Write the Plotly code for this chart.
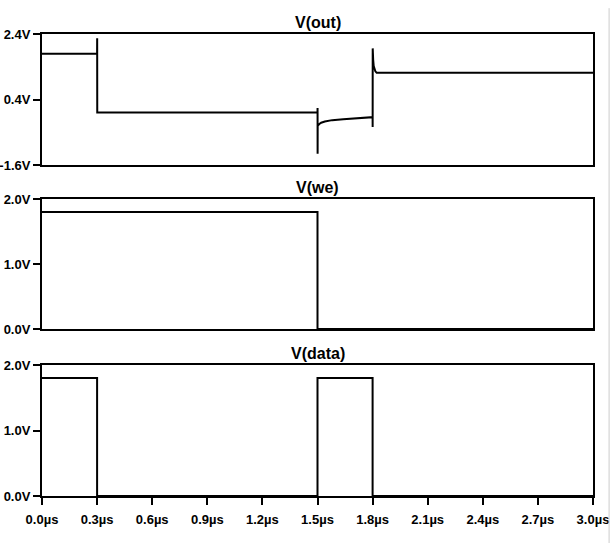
import plotly.graph_objects as go

# Transient simulation results (time in µs, voltages in V)
t_out = [0.0, 0.3, 0.3004, 0.3008, 1.5, 1.5003, 1.5006, 1.5009, 1.51, 1.52, 1.54,
         1.58, 1.64, 1.72, 1.7995, 1.8, 1.8003, 1.8006, 1.803, 1.806, 1.81, 1.815,
         1.822, 3.0]
v_out = [1.8, 1.8, 2.27, 0.0, 0.0, 0.14, -1.26, -0.40, -0.35, -0.31, -0.27,
         -0.23, -0.20, -0.17, -0.14, -0.14, -0.44, 1.96, 1.62, 1.42, 1.32, 1.26,
         1.22, 1.22]

t_we = [0.0, 1.5, 1.5, 3.0]
v_we = [1.8, 1.8, 0.0, 0.0]

t_data = [0.0, 0.3, 0.3, 1.5, 1.5, 1.8, 1.8, 3.0]
v_data = [1.8, 1.8, 0.0, 0.0, 1.8, 1.8, 0.0, 0.0]

titles = ["V(out)", "V(we)", "V(data)"]
x_ticks = [0.0, 0.3, 0.6, 0.9, 1.2, 1.5, 1.8, 2.1, 2.4, 2.7, 3.0]
x_labels = [f"{v:.1f}µs" for v in x_ticks]
y_ticks_out = [-1.6, 0.4, 2.4]
y_labels_out = ["-1.6V", "0.4V", "2.4V"]
y_ticks_lvl = [0.0, 1.0, 2.0]
y_labels_lvl = ["0.0V", "1.0V", "2.0V"]

W, H = 610, 543
FONT = "Liberation Sans, Arial, sans-serif"

x_dom = [42 / W, 593 / W]
# panel pixel extents (top, bottom)
panels = [(34, 165), (199, 329), (365, 496)]
y_doms = [[1 - b / H, 1 - t / H] for t, b in panels]

fig = go.Figure()
series = [(t_out, v_out), (t_we, v_we), (t_data, v_data)]
for i, (tx, vy) in enumerate(series):
    sfx = "" if i == 0 else str(i + 1)
    fig.add_trace(go.Scatter(
        x=tx, y=vy, mode="lines",
        line=dict(color="black", width=2),
        xaxis="x" + sfx, yaxis="y" + sfx,
        showlegend=False, hoverinfo="skip", cliponaxis=False,
    ))

axis_common = dict(
    showline=True, linecolor="black", linewidth=2, mirror=True,
    showgrid=False, zeroline=False, automargin=False,
    ticks="outside", ticklen=7, tickwidth=2, tickcolor="black",
    tickfont=dict(family=FONT, size=13, color="black", weight="bold"),
)

layout = dict(
    width=W, height=H,
    margin=dict(l=0, r=0, t=0, b=0, autoexpand=False),
    paper_bgcolor="white", plot_bgcolor="white",
    showlegend=False,
)

for i in range(3):
    sfx = "" if i == 0 else str(i + 1)
    xa = dict(axis_common, domain=x_dom, range=[0, 3.0], anchor="y" + sfx,
              tickvals=x_ticks, ticktext=x_labels, ticklabelstandoff=3)
    if i < 2:
        xa.update(ticks="", showticklabels=False)
    if i == 0:
        ya = dict(axis_common, domain=y_doms[i], range=[-1.6, 2.4],
                  tickvals=y_ticks_out, ticktext=y_labels_out)
    else:
        ya = dict(axis_common, domain=y_doms[i], range=[0, 2.0],
                  tickvals=y_ticks_lvl, ticktext=y_labels_lvl)
    ya.update(anchor="x" + sfx, ticklabelstandoff=0)
    layout["xaxis" + sfx] = xa
    layout["yaxis" + sfx] = ya

fig.update_layout(**layout)

for i, title in enumerate(titles):
    top = panels[i][0]
    fig.add_annotation(
        text=title, xref="paper", yref="paper",
        x=(x_dom[0] + x_dom[1]) / 2, y=1 - top / H,
        xanchor="center", yanchor="bottom", yshift=1,
        showarrow=False,
        font=dict(family=FONT, size=16, color="black", weight="bold"),
    )

# thin window edge on the right
fig.add_shape(type="line", xref="paper", yref="paper",
              x0=0.9985, x1=0.9985, y0=0, y1=0.985,
              line=dict(color="#cccccc", width=1))

fig.write_html("out.html")
